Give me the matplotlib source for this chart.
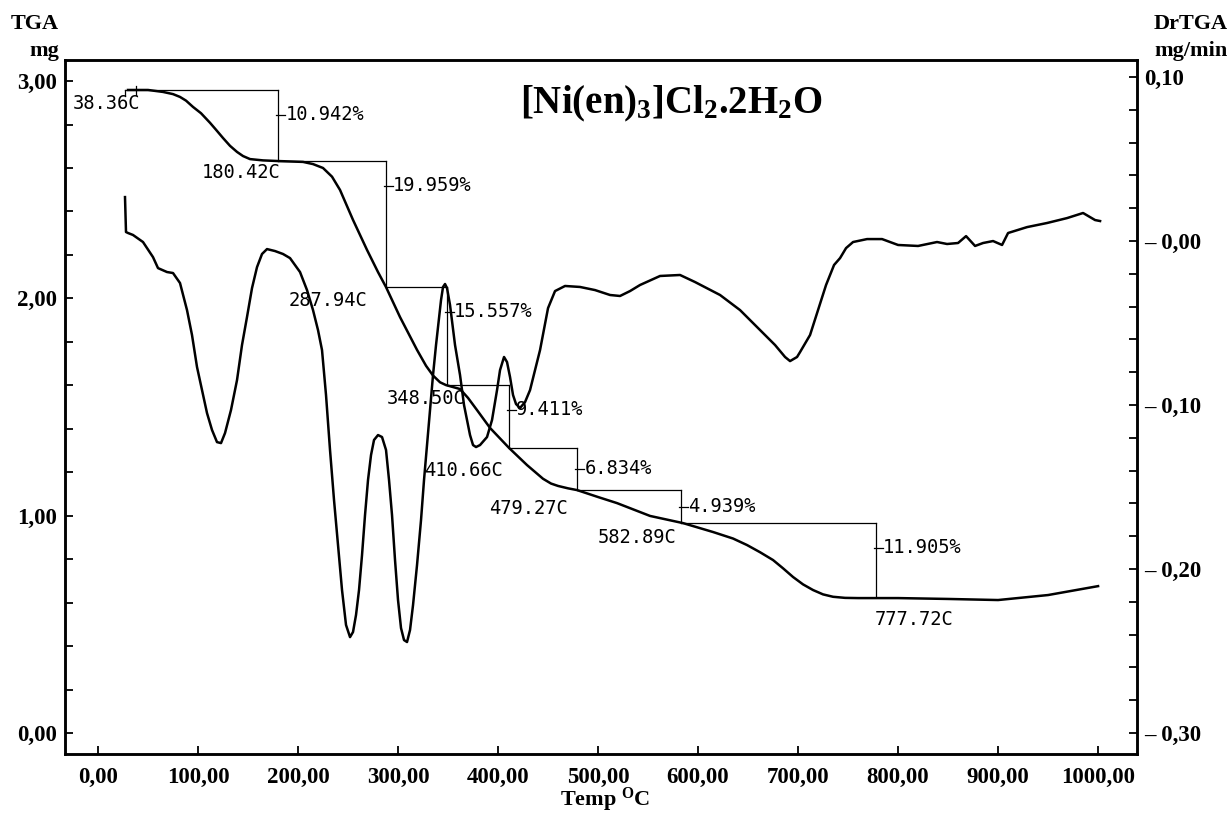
import matplotlib.pyplot as plt
from matplotlib.ticker import MultipleLocator

plt.rcParams['mathtext.fontset'] = 'custom'
plt.rcParams['mathtext.rm'] = 'Liberation Serif:bold'
plt.rcParams['mathtext.it'] = 'Liberation Serif:bold'
plt.rcParams['mathtext.bf'] = 'Liberation Serif:bold'

# TGA curve (mg) vs temperature (C)
tga_temp = [30, 38, 50, 65, 75, 82, 88, 95, 103, 112, 118, 125, 132, 139, 145, 152,
            165, 180, 205, 215, 225, 234, 242, 255, 269, 280, 288, 302, 319, 328,
            335, 342, 348, 355, 362, 370, 379, 392, 411, 429, 445, 453, 460, 470,
            479, 500, 519, 552, 585, 615, 635, 649, 662, 675, 685, 695, 705, 715,
            725, 735, 747, 760, 779, 800, 850, 900, 950, 1000]
tga_mass = [2.959, 2.959, 2.959, 2.950, 2.940, 2.927, 2.910, 2.881, 2.852, 2.808,
            2.776, 2.738, 2.702, 2.674, 2.655, 2.641, 2.635, 2.632, 2.628, 2.618,
            2.600, 2.560, 2.499, 2.361, 2.223, 2.121, 2.052, 1.914, 1.763, 1.690,
            1.645, 1.614, 1.601, 1.592, 1.583, 1.542, 1.486, 1.404, 1.312, 1.233,
            1.170, 1.148, 1.137, 1.126, 1.118, 1.086, 1.058, 0.999, 0.966, 0.925,
            0.895, 0.865, 0.832, 0.796, 0.758, 0.718, 0.684, 0.658, 0.638, 0.627,
            0.622, 0.621, 0.621, 0.621, 0.617, 0.612, 0.635, 0.676]

# DrTGA curve (mg/min) vs temperature (C)
dtg_temp = [27, 28, 30, 35, 45, 55, 60, 69, 75, 82, 89, 94, 99, 109, 114, 119, 123,
            127, 133, 139, 144, 149, 154, 159, 164, 169, 177, 185, 192, 202, 209,
            215, 220, 224, 228, 232, 236, 240, 244, 248, 252, 255, 258, 261, 264,
            267, 270, 273, 276, 280, 284, 288, 291, 294, 297, 300, 303, 306, 309,
            312, 315, 319, 323, 326, 329, 332, 335, 338, 341, 343, 345, 347, 349,
            352, 357, 362, 366, 369, 372, 375, 378, 382, 389, 394, 399, 402, 406,
            409, 412, 415, 418, 422, 427, 432, 437, 442, 450, 457, 467, 482, 497,
            512, 522, 532, 542, 562, 582, 597, 622, 642, 662, 677, 687, 692, 699,
            702, 712, 720, 728, 736, 742, 748, 755, 769, 784, 800, 820, 839, 849,
            860, 868, 877, 885, 895, 904, 910, 929, 949, 969, 985, 997, 1002]
dtg_rate = [0.0268, 0.0055, 0.0049, 0.0037, -0.0006, -0.0098, -0.0165, -0.0189,
            -0.0195, -0.0256, -0.0421, -0.0573, -0.0768, -0.1049, -0.1152, -0.1226,
            -0.1232, -0.1171, -0.1030, -0.0848, -0.0634, -0.0463, -0.0287, -0.0159,
            -0.0079, -0.0049, -0.0061, -0.0079, -0.0104, -0.0189, -0.0299, -0.0421,
            -0.0543, -0.0665, -0.0939, -0.1274, -0.1579, -0.1854, -0.2128, -0.2341,
            -0.2415, -0.2384, -0.2280, -0.2128, -0.1915, -0.1671, -0.1457, -0.1305,
            -0.1213, -0.1183, -0.1195, -0.1274, -0.1457, -0.1671, -0.1945, -0.2189,
            -0.2360, -0.2433, -0.2445, -0.2372, -0.2220, -0.1976, -0.1701, -0.1457,
            -0.1244, -0.1030, -0.0817, -0.0634, -0.0470, -0.0360, -0.0280, -0.0262,
            -0.0287, -0.0390, -0.0634, -0.0817, -0.1000, -0.1091, -0.1183, -0.1244,
            -0.1256, -0.1244, -0.1195, -0.1091, -0.0909, -0.0787, -0.0707, -0.0738,
            -0.0829, -0.0939, -0.0994, -0.1018, -0.0982, -0.0909, -0.0787, -0.0665,
            -0.0409, -0.0305, -0.0274, -0.0280, -0.0299, -0.0329, -0.0335, -0.0305,
            -0.0268, -0.0213, -0.0207, -0.0250, -0.0329, -0.0421, -0.0543, -0.0634,
            -0.0707, -0.0732, -0.0707, -0.0677, -0.0573, -0.0421, -0.0268, -0.0146,
            -0.0104, -0.0043, -0.0006, 0.0012, 0.0012, -0.0024, -0.0030, -0.0006,
            -0.0018, -0.0012, 0.0030, -0.0030, -0.0012, 0.0000, -0.0024, 0.0049,
            0.0085, 0.0110, 0.0140, 0.0171, 0.0128, 0.0122]

# step analysis
step_temp = [38.36, 180.42, 287.94, 348.50, 410.66, 479.27, 582.89, 777.72]
step_mass = [2.959, 2.632, 2.052, 1.601, 1.312, 1.118, 0.966, 0.626]
step_loss = ['10.942', '19.959', '15.557', '9.411', '6.834', '4.939', '11.905']

x_ticks = [0, 100, 200, 300, 400, 500, 600, 700, 800, 900, 1000]
x_labels = ['0,00', '100,00', '200,00', '300,00', '400,00', '500,00',
            '600,00', '700,00', '800,00', '900,00', '1000,00']
left_ticks = [0, 1, 2, 3]
left_labels = ['0,00', '1,00', '2,00', '3,00']
right_ticks = [0.10, 0.0, -0.10, -0.20, -0.30]
right_labels = ['0,10', '\u2013 0,00', '\u2013 0,10', '\u2013 0,20', '\u2013 0,30']

serif = 'Liberation Serif'
mono = 'DejaVu Sans Mono'

fig = plt.figure(figsize=(12.31, 8.15), dpi=100)
ax = fig.add_axes([0.0528, 0.0748, 0.8709, 0.8516])
ax2 = ax.twinx()

ax.plot(tga_temp, tga_mass, color='black', lw=1.8)
ax2.plot(dtg_temp, dtg_rate, color='black', lw=1.8)

# step boxes
lw_s = 0.9
ax.plot([27, step_temp[1]], [step_mass[0]] * 2, color='black', lw=lw_s)
ax.plot([27, 27], [step_mass[0], step_mass[0] - 0.03], color='black', lw=lw_s)
ax.plot([step_temp[0]] * 2, [step_mass[0] + 0.018, step_mass[0] - 0.022], color='black', lw=lw_s)
for i in range(1, len(step_temp)):
    t1 = step_temp[i]
    top = step_mass[i - 1]
    bot = step_mass[i]
    if i > 1:
        ax.plot([step_temp[i - 1], t1], [top, top], color='black', lw=lw_s)
    ax.plot([t1, t1], [top, bot], color='black', lw=lw_s)
    ylab = max(top - 0.113, (top + bot) / 2)
    ax.plot([t1 - 2, t1 + 7], [ylab, ylab], color='black', lw=lw_s)
    ax.annotate(step_loss[i - 1] + '%', (t1, ylab), xytext=(7, 0),
                textcoords='offset pixels', ha='left', va='center',
                family=mono, fontsize=13.5)

offsets = [(4, -14, 'right'), (2, -11, 'right'), (-19, -13, 'right'), (19, -13, 'right'),
           (-6, -23, 'right'), (-9, -18, 'right'), (-4, -14, 'right'), (-1, -23, 'left')]
for t, m, (dx, dy, ha) in zip(step_temp, step_mass, offsets):
    ax.annotate(f'{t:.2f}C', (t, m), xytext=(dx, dy), textcoords='offset pixels',
                ha=ha, va='center', family=mono, fontsize=13.5)

ax.set_xlim(-33, 1039)
ax.set_ylim(-0.0966, 3.097)
ax2.set_ylim(-0.3128, 0.1104)

ax.set_xticks(x_ticks)
ax.set_xticklabels(x_labels)
ax.set_yticks(left_ticks)
ax.set_yticklabels(left_labels)
ax.yaxis.set_minor_locator(MultipleLocator(0.2))
ax2.set_yticks(right_ticks)
ax2.set_yticklabels(right_labels)
ax2.yaxis.set_minor_locator(MultipleLocator(0.02))

for a in (ax, ax2):
    for s in a.spines.values():
        s.set_linewidth(1.8)
ax.tick_params(axis='x', direction='in', length=6, width=1.3, pad=9, top=False)
ax.tick_params(axis='y', which='both', direction='in', length=6, width=1.3, pad=6)
ax2.tick_params(axis='y', which='both', direction='in', length=6, width=1.3, pad=5)
for lab in ax.get_xticklabels() + ax.get_yticklabels() + ax2.get_yticklabels():
    lab.set_fontfamily(serif)
    lab.set_fontweight('bold')
    lab.set_fontsize(16.5)

ax.text(0.566, 0.9236, r'[Ni(en)$_\mathbf{3}$]Cl$_\mathbf{2}$.2H$_\mathbf{2}$O',
        transform=ax.transAxes, ha='center', va='baseline', fontsize=28,
        family=serif, fontweight='bold')

fig.text(0.048, 0.971, 'TGA', ha='right', va='center', family=serif,
         fontweight='bold', fontsize=16)
fig.text(0.048, 0.938, 'mg', ha='right', va='center', family=serif,
         fontweight='bold', fontsize=16)
fig.text(0.997, 0.971, 'DrTGA', ha='right', va='center', family=serif,
         fontweight='bold', fontsize=16)
fig.text(0.997, 0.938, 'mg/min', ha='right', va='center', family=serif,
         fontweight='bold', fontsize=16)
fig.text(0.492, 0.018, r'Temp $^\mathbf{O}$C', ha='center', va='center',
         family=serif, fontweight='bold', fontsize=16)

fig.savefig('out.png', dpi=100)
